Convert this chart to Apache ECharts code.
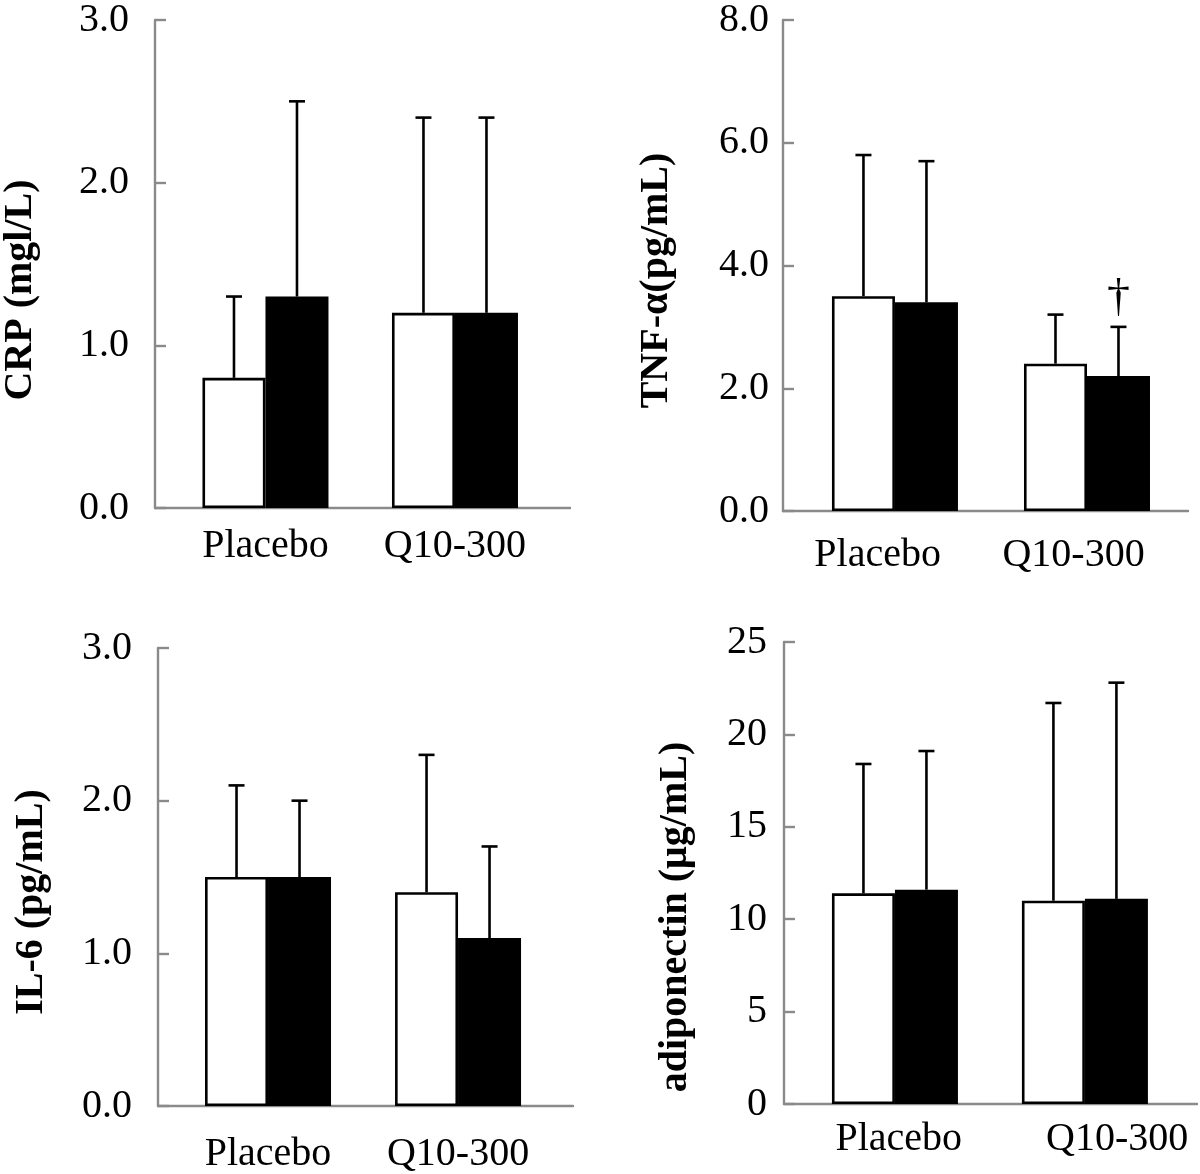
<!DOCTYPE html>
<html><head><meta charset="utf-8">
<script src="https://cdn.jsdelivr.net/npm/echarts@6/dist/echarts.min.js"></script>
<style>html,body{margin:0;padding:0;background:#fff}#c{width:1200px;height:1174px}</style>
</head><body><div id="c"></div>
<script>
// ---- data ----
const categories = ['Placebo', 'Q10-300'];

const crpWhite = [0.8, 1.2];
const crpWhiteUpper = [1.3, 2.4];
const crpBlack = [1.3, 1.2];
const crpBlackUpper = [2.5, 2.4];

const tnfWhite = [3.5, 2.4];
const tnfWhiteUpper = [5.8, 3.2];
const tnfBlack = [3.4, 2.2];
const tnfBlackUpper = [5.7, 3.0];
const tnfBlackMarks = ['', '†'];

const il6White = [1.5, 1.4];
const il6WhiteUpper = [2.1, 2.3];
const il6Black = [1.5, 1.1];
const il6BlackUpper = [2.0, 1.7];

const adipoWhite = [11.4, 11.0];
const adipoWhiteUpper = [18.4, 21.7];
const adipoBlack = [11.6, 11.1];
const adipoBlackUpper = [19.1, 22.8];

const yTitles = ['CRP (mgl/L)', 'TNF-α(pg/mL)', 'IL-6 (pg/mL)', 'adiponectin (μg/mL)'];
const yMax = [3, 8, 3, 25];
const yStep = [1, 2, 1, 5];
const yDecimals = [1, 1, 1, 0];

// ---- layout / styling ----
const FONT = 'Liberation Serif';
const BAR_W = 63;
const panels = [
  {grid:{left:155, top:14, width:415, height:494}, xmin:0.417, xmax:2.607, labelPos:[1,2], yMargin:26, xMargin:18, nameGap:114, shift:26,
   white:crpWhite, whiteUp:crpWhiteUpper, black:crpBlack, blackUp:crpBlackUpper, marks:null},
  {grid:{left:783, top:19, width:405, height:492}, xmin:0.417, xmax:2.526, labelPos:[0.91,1.93], yMargin:14, xMargin:24, nameGap:106, shift:15,
   white:tnfWhite, whiteUp:tnfWhiteUpper, black:tnfBlack, blackUp:tnfBlackUpper, marks:tnfBlackMarks},
  {grid:{left:158, top:648, width:415, height:459}, xmin:0.421, xmax:2.605, labelPos:[1,2], yMargin:26, xMargin:28, nameGap:106, shift:25,
   white:il6White, whiteUp:il6WhiteUpper, black:il6Black, blackUp:il6BlackUpper, marks:null},
  {grid:{left:784, top:642, width:413, height:462}, xmin:0.416, xmax:2.590, labelPos:[1.02,2.17], yMargin:17, xMargin:15, nameGap:88, shift:44,
   white:adipoWhite, whiteUp:adipoWhiteUpper, black:adipoBlack, blackUp:adipoBlackUpper, marks:null}
];

function errRender(dx, marks) {
  return function (params, api) {
    const x = api.value(0), m = api.value(1), u = api.value(2);
    const p0 = api.coord([x, m]);
    const p1 = api.coord([x, u]);
    const cx = p0[0] + dx;
    const st = {stroke:'#000', lineWidth:2.6};
    const children = [
      {type:'line', shape:{x1:cx, y1:p0[1], x2:cx, y2:p1[1]}, style:st},
      {type:'line', shape:{x1:cx-8, y1:p1[1], x2:cx+8, y2:p1[1]}, style:st}
    ];
    const mk = marks ? marks[params.dataIndex] : '';
    if (mk) {
      children.push({type:'text', x:cx, y:p1[1]-5,
        style:{text:mk, fontSize:46, fontFamily:FONT, fill:'#000', align:'center', verticalAlign:'bottom'}});
    }
    return {type:'group', children};
  };
}

const grid = [], xAxis = [], yAxis = [], series = [];
panels.forEach((p, i) => {
  grid.push(Object.assign({containLabel:false}, p.grid));
  xAxis.push({
    type:'value', gridIndex:i, min:p.xmin, max:p.xmax,
    axisLine:{show:true, lineStyle:{color:'#8a8a8a', width:2.4}},
    axisTick:{show:false}, splitLine:{show:false},
    axisLabel:{customValues:p.labelPos, margin:p.xMargin, fontSize:40, fontFamily:FONT, color:'#000', lineHeight:40,
      formatter:(v)=>categories[Math.round(v)-1]}
  });
  yAxis.push({
    type:'value', gridIndex:i, min:0, max:yMax[i], interval:yStep[i],
    axisLine:{show:true, lineStyle:{color:'#8a8a8a', width:2.4}},
    axisTick:{show:true, inside:true, length:11, lineStyle:{color:'#8a8a8a', width:2.4}},
    splitLine:{show:false},
    axisLabel:{margin:p.yMargin, fontSize:40, fontFamily:FONT, color:'#000',
      formatter:(v)=>v.toFixed(yDecimals[i])},
    name:yTitles[i], nameLocation:'middle', nameGap:p.nameGap, nameRotate:90,
    nameTextStyle:{fontSize:40, fontWeight:'bold', fontFamily:FONT, color:'#000', padding:[0, 2*p.shift, 0, 0]}
  });
  const mk = (arr) => categories.map((c, k) => [k+1, arr[k]]);
  const mkE = (a, b) => categories.map((c, k) => [k+1, a[k], b[k]]);
  series.push({type:'bar', xAxisIndex:i, yAxisIndex:i, barWidth:BAR_W, barGap:'0%', data:mk(p.white),
    itemStyle:{color:'#fff', borderColor:'#000', borderWidth:2.6}, silent:true, animation:false});
  series.push({type:'bar', xAxisIndex:i, yAxisIndex:i, barWidth:BAR_W, barGap:'0%', data:mk(p.black),
    itemStyle:{color:'#000', borderColor:'#000', borderWidth:2.6}, silent:true, animation:false});
  series.push({type:'custom', xAxisIndex:i, yAxisIndex:i, data:mkE(p.white, p.whiteUp), renderItem:errRender(-BAR_W/2, null), z:5, animation:false, silent:true});
  series.push({type:'custom', xAxisIndex:i, yAxisIndex:i, data:mkE(p.black, p.blackUp), renderItem:errRender(BAR_W/2, p.marks), z:5, animation:false, silent:true});
});

const chart = echarts.init(document.getElementById('c'), null, {renderer:'canvas'});
chart.setOption({backgroundColor:'#fff', animation:false, grid, xAxis, yAxis, series});
</script>
</body></html>
